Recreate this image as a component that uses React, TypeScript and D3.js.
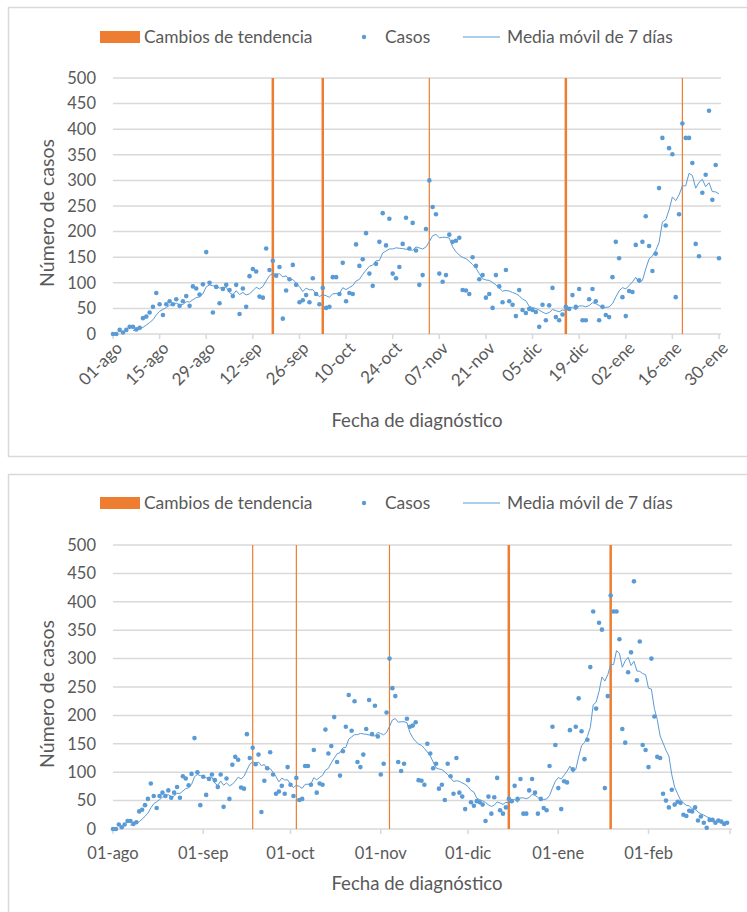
import { useEffect, useRef } from "react";
import * as d3 from "d3";

// daily cases from 01-ago-2020
const startDate = "2020-08-01";
const cases = [
  0, 0, 8, 3, 8, 14, 14, 9, 12, 31,
  34, 42, 53, 80, 58, 37, 58, 64, 58, 68,
  55, 64, 74, 55, 93, 89, 77, 97, 160, 100,
  42, 92, 60, 88, 96, 86, 74, 96, 39, 89,
  53, 113, 127, 122, 73, 71, 167, 125, 143, 114,
  131, 30, 85, 107, 135, 96, 62, 66, 76, 62,
  109, 78, 58, 90, 51, 53, 111, 111, 78, 139,
  64, 80, 78, 175, 133, 146, 197, 118, 94, 137,
  180, 236, 173, 225, 118, 109, 131, 176, 227, 167,
  217, 163, 96, 115, 205, 300, 248, 234, 118, 102,
  115, 194, 180, 182, 188, 86, 85, 78, 150, 133,
  107, 115, 71, 78, 51, 115, 93, 62, 125, 64,
  57, 35, 86, 47, 41, 49, 47, 43, 14, 57,
  27, 56, 90, 33, 27, 38, 53, 49, 76, 53,
  88, 27, 27, 68, 88, 64, 27, 53, 37, 33,
  111, 180, 148, 72, 35, 84, 82, 174, 105, 180,
  230, 172, 123, 157, 285, 383, 212, 363, 351, 72,
  234, 411, 383, 383, 334, 176, 152, 276, 311, 436,
  262, 330, 148, 139, 109, 300, 198, 127, 125, 62,
  50, 38, 69, 43, 48, 46, 25, 23, 32, 31,
  38, 15, 22, 11, 2, 16, 16, 11, 15, 13,
  9, 11,
];

const trendChanges = ["2020-09-18", "2020-10-03", "2020-11-04", "2020-12-15", "2021-01-19"];

const topTickLabels = [
  "01-ago", "15-ago", "29-ago", "12-sep", "26-sep", "10-oct", "24-oct",
  "07-nov", "21-nov", "05-dic", "19-dic", "02-ene", "16-ene", "30-ene",
];
const bottomTickLabels = ["01-ago", "01-sep", "01-oct", "01-nov", "01-dic", "01-ene", "01-feb"];
const yTicks = [0, 50, 100, 150, 200, 250, 300, 350, 400, 450, 500];

const legendLabels = ["Cambios de tendencia", "Casos", "Media móvil de 7 días"];
const axisTitles = { x: "Fecha de diagnóstico", y: "Número de casos" };

const FONT = "Lato, 'Open Sans', sans-serif";
const TEXT = "#595959";
const GRID = "#D9D9D9";
const BLUE = "#5B9BD5";
const ORANGE = "#ED7D31";

const parse = d3.timeParse("%Y-%m-%d");

interface PanelCfg {
  frameY: number;
  frameH: number;
  legendY: number;
  yTop: number;
  yBottom: number;
  xRight: number;
  end: string;
  rotated: boolean;
  tickLabelY: number;
  xTitleY: number;
  yTitleY: number;
  barWidths: number[];
}

const drawPanel = (svg: any, cfg: PanelCfg) => {
  const g = svg.append("g");
  const start = parse(startDate)!;
  const end = parse(cfg.end)!;
  const dates = cases.map((_, i) => d3.timeDay.offset(start, i));

  const x = d3.scaleTime().domain([start, end]).range([113, cfg.xRight]);
  const y = d3.scaleLinear().domain([0, 500]).range([cfg.yBottom, cfg.yTop]);

  g.append("rect")
    .attr("x", 8.5)
    .attr("y", cfg.frameY + 0.5)
    .attr("width", 800)
    .attr("height", cfg.frameH)
    .attr("fill", "#fff")
    .attr("stroke", GRID)
    .attr("stroke-width", 1.5);

  // legend
  const lg = g.append("g").attr("font-family", FONT).attr("font-size", 17.4).attr("fill", TEXT);
  lg.append("rect").attr("x", 100).attr("y", cfg.legendY - 6).attr("width", 40).attr("height", 12).attr("fill", ORANGE);
  lg.append("text").attr("x", 144).attr("y", cfg.legendY).attr("dy", "0.35em").text(legendLabels[0]);
  lg.append("circle").attr("cx", 364).attr("cy", cfg.legendY).attr("r", 2.2).attr("fill", BLUE);
  lg.append("text").attr("x", 385).attr("y", cfg.legendY).attr("dy", "0.35em").text(legendLabels[1]);
  lg.append("line").attr("x1", 463).attr("x2", 500).attr("y1", cfg.legendY).attr("y2", cfg.legendY).attr("stroke", BLUE).attr("stroke-width", 1);
  lg.append("text").attr("x", 507).attr("y", cfg.legendY).attr("dy", "0.35em").text(legendLabels[2]);

  // gridlines
  g.append("g")
    .selectAll("line")
    .data(yTicks)
    .join("line")
    .attr("x1", 113)
    .attr("x2", cfg.xRight + 2)
    .attr("y1", (d: number) => y(d))
    .attr("y2", (d: number) => y(d))
    .attr("stroke", GRID)
    .attr("stroke-width", 1.5);

  g.append("g")
    .attr("font-family", FONT)
    .attr("font-size", 16.5)
    .attr("fill", TEXT)
    .attr("text-anchor", "end")
    .selectAll("text")
    .data(yTicks)
    .join("text")
    .attr("x", 96)
    .attr("y", (d: number) => y(d))
    .attr("dy", "0.35em")
    .text((d: number) => d);

  // x ticks
  const tickDates = cfg.rotated
    ? d3.range(0, topTickLabels.length).map((i) => d3.timeDay.offset(start, i * 14))
    : d3.timeMonth.range(start, d3.timeDay.offset(end, 1));
  g.append("g")
    .selectAll("line")
    .data(tickDates)
    .join("line")
    .attr("x1", (d: Date) => x(d))
    .attr("x2", (d: Date) => x(d))
    .attr("y1", cfg.yBottom)
    .attr("y2", cfg.yBottom + 5)
    .attr("stroke", GRID)
    .attr("stroke-width", 1.5);

  const labels = cfg.rotated ? topTickLabels : bottomTickLabels;
  const xl = g.append("g").attr("font-family", FONT).attr("font-size", cfg.rotated ? 17 : 16.5).attr("fill", TEXT);
  labels.forEach((lab, i) => {
    const px = x(tickDates[i]);
    if (cfg.rotated) {
      xl.append("text")
        .attr("transform", `translate(${px + 6},${cfg.tickLabelY}) rotate(-45)`)
        .attr("text-anchor", "end")
        .attr("dy", "0.35em")
        .text(lab);
    } else {
      xl.append("text").attr("x", px).attr("y", cfg.tickLabelY).attr("dy", "0.35em").attr("text-anchor", "middle").text(lab);
    }
  });

  // trend change bars
  g.append("g")
    .selectAll("line")
    .data(trendChanges)
    .join("line")
    .attr("x1", (d: string) => x(parse(d)!))
    .attr("x2", (d: string) => x(parse(d)!))
    .attr("y1", y(500))
    .attr("y2", y(0))
    .attr("stroke", ORANGE)
    .attr("stroke-width", (_: string, i: number) => cfg.barWidths[i]);

  const idx = d3.range(cases.length).filter((i) => dates[i] <= end);

  // 7-day moving average (trendline of the cases series)
  const avg = idx
    .filter((i) => i >= 6)
    .map((i) => ({ date: dates[i], v: d3.mean(cases.slice(i - 6, i + 1))! }));
  const line = d3
    .line<{ date: Date; v: number }>()
    .x((d) => x(d.date))
    .y((d) => y(d.v));
  g.append("path").attr("d", line(avg)).attr("fill", "none").attr("stroke", BLUE).attr("stroke-width", 1);

  g.append("g")
    .selectAll("circle")
    .data(idx)
    .join("circle")
    .attr("cx", (i: number) => x(dates[i]))
    .attr("cy", (i: number) => y(cases[i]))
    .attr("r", 2.3)
    .attr("fill", BLUE);

  // axis titles
  g.append("text")
    .attr("x", 417)
    .attr("y", cfg.xTitleY)
    .attr("dy", "0.35em")
    .attr("text-anchor", "middle")
    .attr("font-family", FONT)
    .attr("font-size", 18.6)
    .attr("fill", TEXT)
    .text(axisTitles.x);
  g.append("text")
    .attr("transform", `translate(47,${cfg.yTitleY}) rotate(-90)`)
    .attr("dy", "0.35em")
    .attr("text-anchor", "middle")
    .attr("font-family", FONT)
    .attr("font-size", 19.5)
    .attr("fill", TEXT)
    .text(axisTitles.y);
};

const App = () => {
  const ref = useRef<SVGSVGElement>(null);

  useEffect(() => {
    const svg = d3.select(ref.current);
    svg.selectAll("*").remove();
    svg.append("rect").attr("width", 747).attr("height", 912).attr("fill", "#fff");

    drawPanel(svg, {
      frameY: 7,
      frameH: 449,
      legendY: 37,
      yTop: 78,
      yBottom: 334,
      xRight: 719,
      end: "2021-01-30",
      rotated: true,
      tickLabelY: 345,
      xTitleY: 420,
      yTitleY: 213,
      barWidths: [2.5, 2.5, 1.2, 2.5, 1.2],
    });

    drawPanel(svg, {
      frameY: 474,
      frameH: 460,
      legendY: 503,
      yTop: 545,
      yBottom: 829,
      xRight: 730,
      end: "2021-03-01",
      rotated: false,
      tickLabelY: 853,
      xTitleY: 883,
      yTitleY: 694,
      barWidths: [1.2, 1.2, 1.2, 2.5, 2.5],
    });
  }, []);

  return (
    <svg
      ref={ref}
      width={747}
      height={912}
      style={{ position: "absolute", left: 0, top: 0, display: "block" }}
    />
  );
};

export default App;
